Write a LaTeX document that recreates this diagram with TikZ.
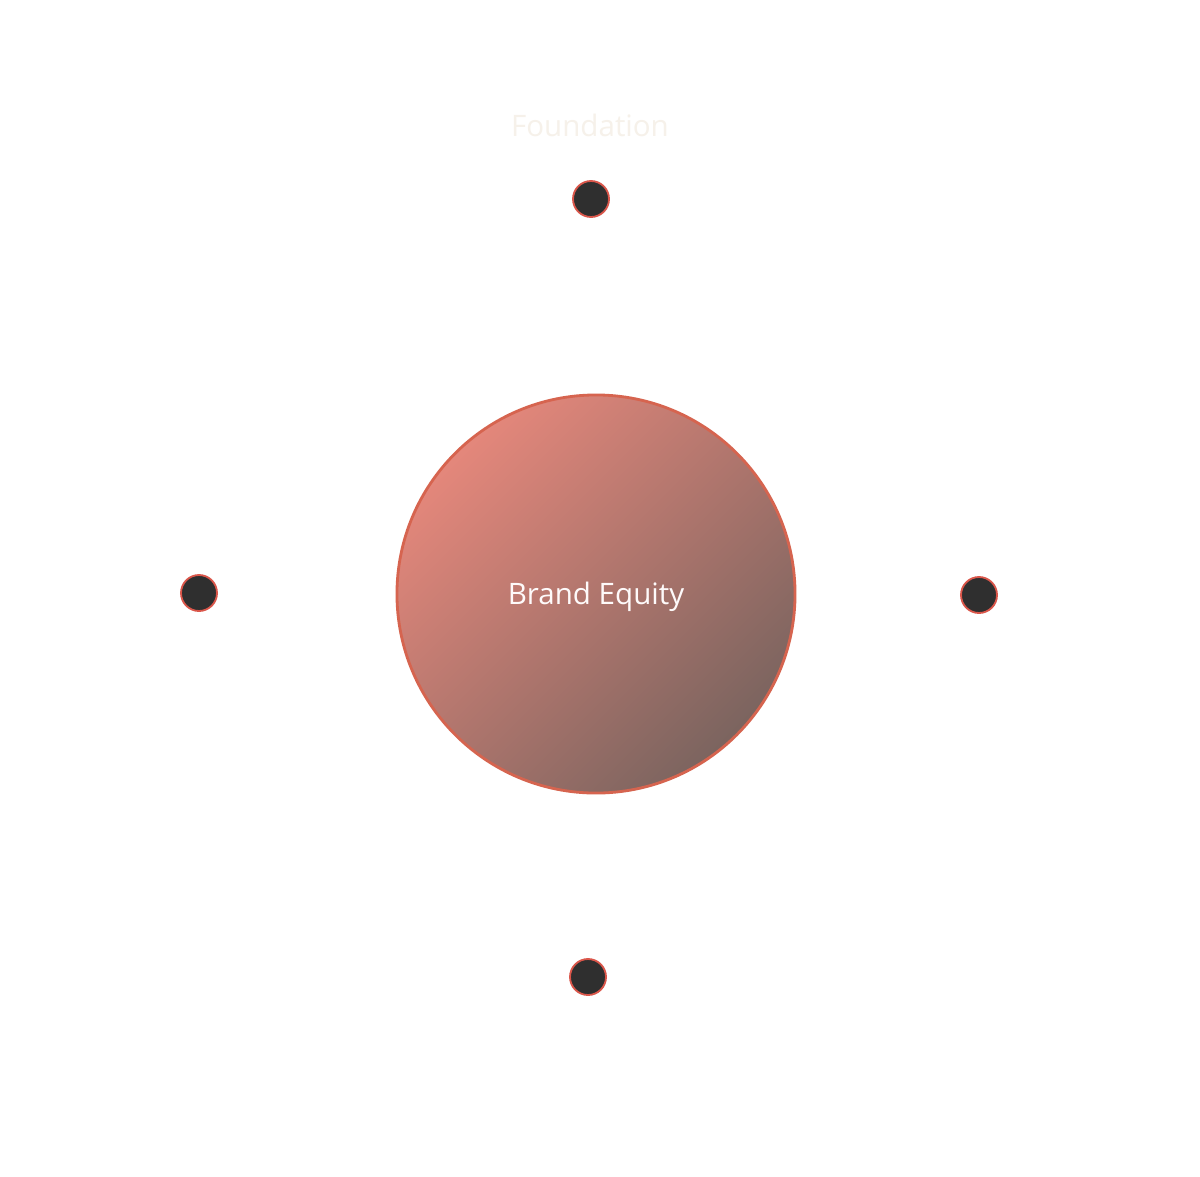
\documentclass[tikz,border=0pt]{standalone}
\usepackage{fontspec}
\setmainfont{Open Sans}
\usepackage{tikz}
\usetikzlibrary{positioning}
\definecolor{equity_light}{HTML}{E4877B}
\definecolor{equity_dark}{HTML}{7B645F}
\definecolor{equity_edge}{HTML}{D6644F}
\definecolor{dot_fill}{HTML}{2F2F2F}
\definecolor{dot_edge}{HTML}{DA564A}
\definecolor{faint_text}{HTML}{F6F1EA}
\tikzset{
    hub/.style={
        circle, draw=equity_edge, line width=2pt,
        minimum size=9.95cm, inner sep=0pt, text height=0.68cm,
        top color=equity_light, bottom color=equity_dark, shading angle=45,
        text=white!96!equity_light, font=\fontsize{21}{25}\selectfont
    },
    pin/.style={
        circle, draw=dot_edge, line width=1.3pt, fill=dot_fill,
        minimum size=0.9cm, inner sep=0pt
    },
    caption/.style={
        text=faint_text, font=\fontsize{21}{25}\selectfont, inner sep=0pt
    }
}

\begin{document}
\begin{tikzpicture}[x=0.025cm, y=-0.025cm]
    % lienzo
    \fill[white] (0,0) rectangle (1200,1176);
    \useasboundingbox (0,0) rectangle (1200,1176);

    % nodo central
    \node[hub] (equity) at (596,594) {Brand Equity};

    % puntos alrededor
    \node[pin] (top)    at (591,199) {};
    \node[pin] (left)   at (199,593) {};
    \node[pin] (right)  at (979,595) {};
    \node[pin] (bottom) at (588,977) {};

    % etiqueta superior
    \node[caption] (found) at (590,125) {Foundation};
\end{tikzpicture}
\end{document}
